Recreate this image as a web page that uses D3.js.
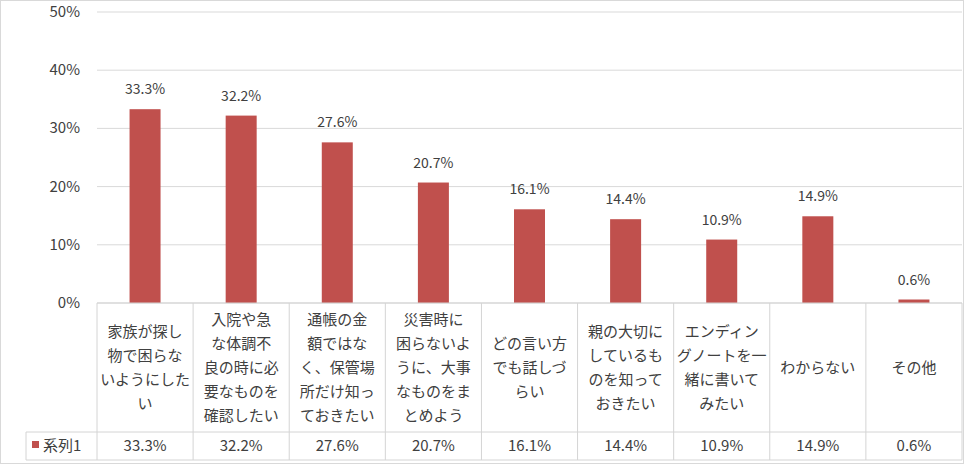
<!DOCTYPE html><html><head><meta charset="utf-8"><script src="https://cdn.jsdelivr.net/npm/d3@7"></script>
<style>body{margin:0;background:#fff}text{font-family:"Noto Sans CJK JP","Noto Sans",sans-serif;fill:#404040}</style></head><body>
<svg id="c" width="964" height="464"></svg>
<script>
const categories=[["家族が探し","物で困らな","いようにした","い"],["入院や急","な体調不","良の時に必","要なものを","確認したい"],["通帳の金","額ではな","く、保管場","所だけ知っ","ておきたい"],["災害時に","困らないよ","うに、大事","なものをま","とめよう"],["どの言い方","でも話しづ","らい"],["親の大切に","しているも","のを知って","おきたい"],["エンディン","グノートを一","緒に書いて","みたい"],["わからない"],["その他"]];
const values=[33.3,32.2,27.6,20.7,16.1,14.4,10.9,14.9,0.6];
const seriesName="系列1";
const yTicks=[0,10,20,30,40,50];
const svg=d3.select("#c");
svg.append("rect").attr("x",0.5).attr("y",0.5).attr("width",963).attr("height",463).attr("fill","#fff").attr("stroke","#d9d9d9");
const L=97,R=962,T=12,B=303;
const x=d3.scaleBand().domain(d3.range(values.length)).range([L,R]);
const y=d3.scaleLinear().domain([0,50]).range([B,T]);
const g=svg.append("g");
yTicks.forEach(t=>{g.append("line").attr("x1",L).attr("x2",R).attr("y1",y(t)).attr("y2",y(t)).attr("stroke","#d9d9d9");
g.append("text").attr("x",80).attr("y",y(t)+5).attr("text-anchor","end").attr("font-size",15).text(t+"%");});
const bw=31;
values.forEach((v,i)=>{const cx=x(i)+x.bandwidth()/2;
g.append("rect").attr("x",cx-bw/2).attr("y",y(v)).attr("width",bw).attr("height",y(0)-y(v)).attr("fill","#c0504d");
g.append("text").attr("x",cx).attr("y",y(v)-15).attr("text-anchor","middle").attr("font-size",14).text(v.toFixed(1)+"%");});
// table
const tT=303,tM=432,tB=460,legL=26;
const st="#d4d4d4";
const ln=(a,b,c,d)=>g.append("line").attr("x1",a).attr("y1",b).attr("x2",c).attr("y2",d).attr("stroke",st);
ln(L,tT,R,tT);ln(legL,tM,R,tM);ln(legL,tB,R,tB);ln(legL,tM,legL,tB);
d3.range(values.length+1).forEach(i=>{const xx=i<values.length?x(i):R;ln(xx,tT,xx,tB);});
categories.forEach((lines,i)=>{const cx=x(i)+x.bandwidth()/2;const lh=24;const y0=(tT+tM)/2-(lines.length-1)*lh/2;
lines.forEach((s,j)=>g.append("text").attr("x",cx).attr("y",y0+j*lh+5).attr("text-anchor","middle").attr("font-size",15).text(s));
g.append("text").attr("x",cx).attr("y",(tM+tB)/2+5).attr("text-anchor","middle").attr("font-size",15).text(values[i].toFixed(1)+"%");});
g.append("rect").attr("x",32).attr("y",441).attr("width",7).attr("height",7).attr("fill","#c0504d");
g.append("text").attr("x",43).attr("y",(tM+tB)/2+5).attr("font-size",15).text(seriesName);
</script></body></html>
